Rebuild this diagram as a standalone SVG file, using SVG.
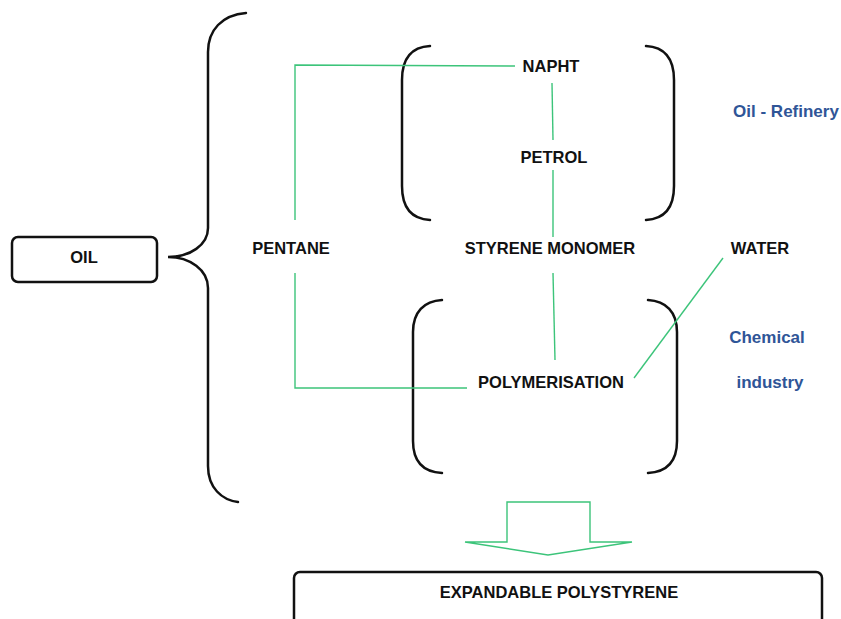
<svg xmlns="http://www.w3.org/2000/svg" width="841" height="619" viewBox="0 0 841 619">
<style>
.lbl{font-family:"Liberation Sans",Arial,sans-serif;font-weight:bold;font-size:16.5px;fill:#111;text-anchor:middle}
.blue{font-family:"Liberation Sans",Arial,sans-serif;font-weight:bold;font-size:17px;fill:#2F5597;text-anchor:middle}
.brk{fill:none;stroke:#111;stroke-width:2.5;stroke-linecap:round}
.con{fill:none;stroke:#3CC47A;stroke-width:1.4}
</style>
<rect width="841" height="619" fill="#fff"/>
<g id="brackets">
<path class="brk" d="M246,13 C222,15 208,30 208,52 L208,228 C208,245 190,257 168,257 C190,257 208,270 208,288 L208,466 C208,488 222,500 238,502"/>
<path class="brk" d="M430,46 C412,47 402,58 402,80 L402,186 C402,208 412,219 430,220"/>
<path class="brk" d="M646,46 C664,47 674,58 674,80 L674,186 C674,208 664,219 646,220"/>
<path class="brk" d="M442,300 C424,301 413,312 413,332 L413,441 C413,462 424,472 442,473"/>
<path class="brk" d="M648,300 C666,301 677,312 677,332 L677,441 C677,462 666,472 648,473"/>
</g>
<g id="connectors">
<polyline class="con" points="515,66 295,65 295,220"/>
<polyline class="con" points="295,273 295,388 467,388"/>
<line class="con" x1="552" y1="83" x2="553" y2="140"/>
<line class="con" x1="553" y1="170" x2="553" y2="237"/>
<line class="con" x1="553" y1="273" x2="555" y2="360"/>
<line class="con" x1="723" y1="258" x2="634" y2="378"/>
<polygon class="con" fill="#fff" points="507,502 590,502 590,542 632,542 548,555 465,542 507,542"/>
</g>
<g id="oil">
<rect x="12" y="237" width="145" height="45" rx="6" fill="#fff" stroke="#111" stroke-width="2.5"/>
<text class="lbl" x="84" y="263">OIL</text>
</g>
<g id="naphta"><text class="lbl" x="551" y="72">NAPHT</text></g>
<g id="petrol"><text class="lbl" x="554" y="163">PETROL</text></g>
<g id="pentane"><text class="lbl" x="291" y="254">PENTANE</text></g>
<g id="styrene"><text class="lbl" x="550" y="254">STYRENE MONOMER</text></g>
<g id="water"><text class="lbl" x="760" y="254">WATER</text></g>
<g id="polymerisation"><text class="lbl" x="551" y="388">POLYMERISATION</text></g>
<g id="refinery"><text class="blue" x="786" y="117">Oil - Refinery</text></g>
<g id="chemical"><text class="blue" x="767" y="343">Chemical</text><text class="blue" x="770" y="388">industry</text></g>
<g id="eps">
<rect x="294" y="572" width="528" height="60" rx="6" fill="#fff" stroke="#111" stroke-width="2.5"/>
<text class="lbl" x="559" y="598">EXPANDABLE POLYSTYRENE</text>
</g>
</svg>
